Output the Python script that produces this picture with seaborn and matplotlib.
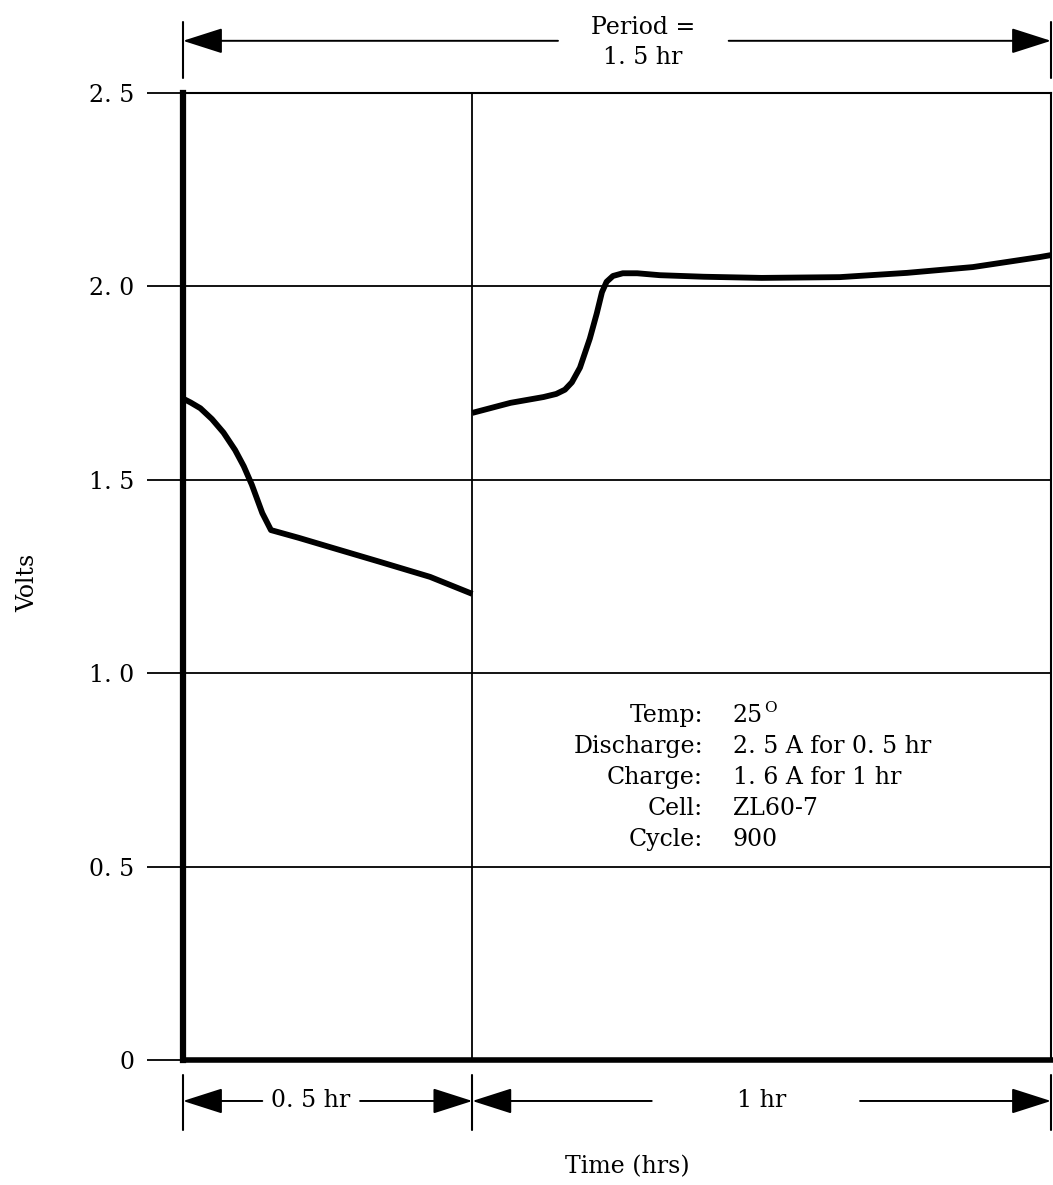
import numpy as np
import pandas as pd
import matplotlib
matplotlib.use('Agg')
import matplotlib.pyplot as plt
import seaborn as sns

# Discharge part of the cycle (0 - 0.5 hr)
discharge_time = [0.0, 0.013, 0.03, 0.05, 0.07, 0.09, 0.105, 0.119, 0.137, 0.152,
                  0.20, 0.254, 0.340, 0.427, 0.5]
discharge_volts = [1.71, 1.70, 1.685, 1.657, 1.622, 1.577, 1.535, 1.487, 1.414, 1.370,
                   1.350, 1.326, 1.288, 1.249, 1.205]

# Charge part of the cycle (0.5 - 1.5 hr)
charge_time = [0.5, 0.566, 0.623, 0.645, 0.660, 0.672, 0.686, 0.703, 0.715, 0.724, 0.732,
               0.743, 0.760, 0.785, 0.824, 0.90, 1.0, 1.135, 1.251, 1.365, 1.481, 1.5]
charge_volts = [1.673, 1.699, 1.714, 1.722, 1.733, 1.752, 1.790, 1.865, 1.930, 1.985, 2.012,
                2.027, 2.034, 2.034, 2.029, 2.025, 2.022, 2.024, 2.035, 2.050, 2.076, 2.081]

ytick_values = [0, 0.5, 1.0, 1.5, 2.0, 2.5]
ytick_labels = ['0', '0. 5', '1. 0', '1. 5', '2. 0', '2. 5']

info_labels = ['Temp:', 'Discharge:', 'Charge:', 'Cell:', 'Cycle:']
info_values = ['25', '2. 5 A for 0. 5 hr', '1. 6 A for 1 hr', 'ZL60-7', '900']

discharge = pd.DataFrame({'Time': discharge_time, 'Volts': discharge_volts})
charge = pd.DataFrame({'Time': charge_time, 'Volts': charge_volts})

sns.set_style('white')
plt.rcParams['font.family'] = ['DejaVu Serif']
plt.rcParams['text.color'] = 'black'
plt.rcParams['ytick.color'] = 'black'
plt.rcParams['axes.labelcolor'] = 'black'

fig = plt.figure(figsize=(10.53, 11.85), dpi=100)
ax = fig.add_axes([0.1738, 0.1055, 0.8243, 0.8160])

sns.lineplot(data=discharge, x='Time', y='Volts', color='black', lw=4.2, ax=ax,
             solid_joinstyle='round', solid_capstyle='butt')
sns.lineplot(data=charge, x='Time', y='Volts', color='black', lw=4.2, ax=ax,
             solid_joinstyle='round', solid_capstyle='butt')

ax.set_xlim(0, 1.5)
ax.set_ylim(0, 2.5)
ax.set_xticks([])
ax.set_yticks(ytick_values)
ax.set_yticklabels(ytick_labels, fontsize=17)
ax.tick_params(axis='y', direction='out', length=26, width=1.3, color='black', pad=9,
               left=True, labelcolor='black')
ax.yaxis.grid(True, color='black', lw=1.3)
ax.axvline(0.5, color='black', lw=1.3)
ax.set_xlabel('')
ax.set_ylabel('')

for side in ['top', 'right', 'left', 'bottom']:
    ax.spines[side].set_visible(True)
    ax.spines[side].set_color('black')
ax.spines['left'].set_linewidth(4.5)
ax.spines['bottom'].set_linewidth(4.0)
ax.spines['top'].set_linewidth(1.5)
ax.spines['right'].set_linewidth(1.5)

trans = ax.get_xaxis_transform()
head = '-|>,head_length=1.25,head_width=0.4'


def arrow(x0, x1, y):
    ax.annotate('', xy=(x1, y), xytext=(x0, y), xycoords=trans, textcoords=trans,
                annotation_clip=False,
                arrowprops=dict(arrowstyle=head, mutation_scale=20, color='black',
                                lw=1.4, shrinkA=0, shrinkB=0))


def marker(x, y0, y1):
    ax.plot([x, x], [y0, y1], transform=trans, color='black', lw=1.5, clip_on=False)


# period arrow on top
top_y = 1.054
arrow(0.648, 0.0, top_y)
arrow(0.943, 1.5, top_y)
marker(0.0, 1.0155, 1.0734)
marker(1.5, 1.0155, 1.0734)
ax.text(0.795, 1.068, 'Period =', transform=trans, ha='center', va='center', fontsize=17)
ax.text(0.795, 1.037, '1. 5 hr', transform=trans, ha='center', va='center', fontsize=17)

# half-period arrows on the bottom
bot_y = -0.0424
arrow(0.137, 0.0, bot_y)
arrow(0.306, 0.5, bot_y)
arrow(0.81, 0.5, bot_y)
arrow(1.17, 1.5, bot_y)
marker(0.0, -0.0155, -0.0724)
marker(0.5, -0.0155, -0.0724)
marker(1.5, -0.0155, -0.0724)
ax.text(0.221, bot_y, '0. 5 hr', transform=trans, ha='center', va='center', fontsize=17)
ax.text(1.0, bot_y, '1 hr', transform=trans, ha='center', va='center', fontsize=17)

# test conditions
info_y = [0.874, 0.794, 0.714, 0.633, 0.553]
for lab, val, yy in zip(info_labels, info_values, info_y):
    ax.text(0.8986, yy, lab, ha='right', va='baseline', fontsize=17)
    ax.text(0.950, yy, val, ha='left', va='baseline', fontsize=17)
ax.text(1.005, 0.900, 'O', ha='left', va='baseline', fontsize=11)

fig.text(28 / 1053, 1 - 583 / 1185, 'Volts', rotation=90, ha='center', va='center', fontsize=17)
fig.text(627 / 1053, 1 - 1167 / 1185, 'Time (hrs)', ha='center', va='center', fontsize=17)

fig.savefig('out.png', dpi=100)
